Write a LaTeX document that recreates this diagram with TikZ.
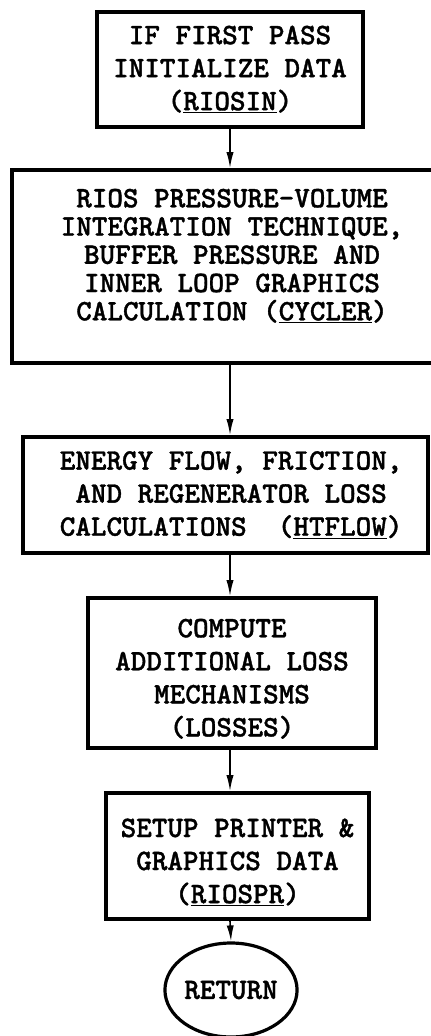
\documentclass[tikz,border=0pt]{standalone}
\usepackage{fontspec}
\newfontfamily\typer[FakeBold=1.2]{lmmonolt10-bold.otf}
\usetikzlibrary{arrows.meta,shapes.geometric}
\def\boxfont{\fontsize{21.1}{23.5}\selectfont\typer}
\def\tightfont{\fontsize{21.1}{20.1}\selectfont\typer}

\begin{document}
\begin{tikzpicture}[
		stepbox/.style={draw, line width=0.9mm, rectangle, align=center, inner sep=0pt, font=\boxfont},
		endbox/.style={draw, line width=0.8mm, ellipse, inner sep=0pt, font=\boxfont},
		flow/.style={line width=0.4mm, -{Latex[length=4mm,width=1.8mm]}}
	]
		%%%%% START %%%%%
		
		\clip (0, 0) rectangle (10.775, -25.9);
		\coordinate (spine) at (5.75, 0);
		
		\node[stepbox, minimum width=6.65cm, minimum height=2.875cm] (riosin) at (5.75, -1.7375)
			{IF FIRST PASS\\INITIALIZE DATA\\(\underline{RIOSIN})};
		\node[stepbox, font=\tightfont, minimum width=11cm, minimum height=4.825cm] (cycler) at (5.8, -6.6625)
			{RIOS PRESSURE-VOLUME\\INTEGRATION TECHNIQUE,\\BUFFER PRESSURE AND\\INNER LOOP GRAPHICS\\CALCULATION (\underline{CYCLER})\\[-0.11cm]};
		\node[stepbox, minimum width=10.125cm, minimum height=2.9cm] (htflow) at (5.6375, -12.375)
			{\hspace*{0.28cm}ENERGY FLOW, FRICTION,\\\hspace*{0.28cm}AND REGENERATOR LOSS\\\hspace*{0.28cm}CALCULATIONS\ \ (\underline{HTFLOW})};
		\node[stepbox, minimum width=7.2cm, minimum height=3.75cm] (losses) at (5.8, -16.825)
			{\rule{0pt}{0.75cm}COMPUTE\\ADDITIONAL LOSS\\MECHANISMS\\(LOSSES)};
		\node[stepbox, minimum width=6.575cm, minimum height=3.15cm] (riospr) at (5.9375, -21.4)
			{\rule{0pt}{0.78cm}SETUP PRINTER \&\\GRAPHICS DATA\\(\underline{RIOSPR})};
		\node[endbox, minimum width=3.25cm, minimum height=2.35cm] (return) at (5.775, -24.75) {RETURN};
		
		\draw[flow] (spine |- riosin.south) -- (spine |- cycler.north);
		\draw[flow] (spine |- cycler.south) -- (spine |- htflow.north);
		\draw[flow] (spine |- htflow.south) -- (spine |- losses.north);
		\draw[flow] (spine |- losses.south) -- (spine |- riospr.north);
		\draw[flow] (spine |- riospr.south) -- (return.north);
		
		%%%%% END %%%%%
	\end{tikzpicture}
\end{document}
